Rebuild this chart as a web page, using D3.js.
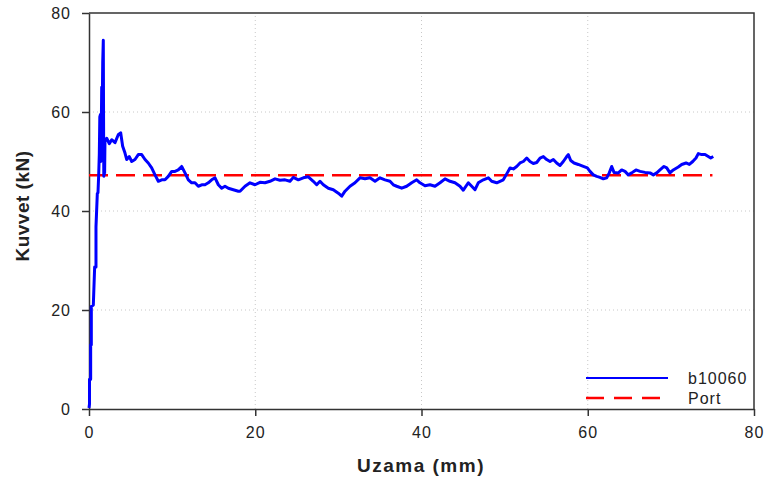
<!DOCTYPE html>
<html>
<head>
<meta charset="utf-8">
<script src="https://cdn.jsdelivr.net/npm/d3@7"></script>
<style>
  body { margin: 0; background: #fff; }
  text { font-family: "Liberation Sans", Arial, sans-serif; }
</style>
</head>
<body>
<div id="chart"></div>
<script>
// elongation (mm) and force (kN) of the b10060 test
var uzama = [0, 0.06, 0.06, 0.2, 0.2, 0.28, 0.28, 0.52, 0.68, 0.84, 0.84, 1.0, 1.08, 1.17, 1.24, 1.30,
  1.38, 1.42, 1.48, 1.53, 1.60, 1.65, 1.72, 1.76, 1.78, 1.83, 1.88, 1.92, 2.13, 2.44, 2.73, 3.13,
  3.52, 3.81, 4.05, 4.33, 4.54, 4.85, 5.14, 5.53, 5.93, 6.34, 6.74, 7.13, 7.54, 7.94, 8.34, 8.75,
  9.14, 9.54, 9.95, 10.35, 10.74, 11.15, 11.55, 11.95, 12.35, 12.75, 13.15, 13.56, 13.95, 14.35,
  14.76, 15.16, 15.56, 15.96, 16.36, 16.76, 17.36, 17.96, 18.17, 18.77, 19.37, 19.97, 20.57, 21.17,
  21.77, 22.38, 22.98, 23.58, 24.18, 24.58, 25.18, 25.78, 26.38, 26.98, 27.39, 27.79, 28.19, 28.79,
  29.39, 29.99, 30.40, 30.80, 31.40, 32.00, 32.60, 33.20, 33.80, 34.41, 35.01, 35.61, 36.21, 36.61,
  37.02, 37.62, 38.22, 38.82, 39.42, 39.82, 40.42, 41.02, 41.62, 42.23, 42.83, 43.43, 44.03, 44.63,
  45.03, 45.63, 46.04, 46.44, 46.83, 47.44, 48.04, 48.44, 49.05, 49.44, 49.84, 50.25, 50.65, 51.05,
  51.45, 51.85, 52.25, 52.66, 53.05, 53.45, 53.86, 54.26, 54.66, 55.06, 55.46, 55.86, 56.26, 56.66,
  57.06, 57.47, 57.66, 57.95, 58.35, 58.86, 59.47, 59.95, 60.27, 60.67, 61.08, 61.47, 61.87, 62.28,
  62.59, 62.88, 63.16, 63.68, 64.08, 64.48, 64.88, 65.29, 65.80, 66.29, 66.89, 67.49, 67.89, 68.30,
  68.69, 69.17, 69.50, 69.89, 70.29, 70.89, 71.30, 71.82, 72.22, 72.63, 73.02, 73.30, 73.71, 74.11,
  74.50, 74.79, 75.10];
var kuvvet = [0.2, 1, 6, 6, 13, 13, 20.7, 21, 28.7, 28.7, 36.8, 43.5, 43.7, 47.5, 51.5, 59,
  59.5, 50, 57, 65, 62, 70, 74.5, 55, 47, 52, 47.5, 54, 54.7, 53.6, 54.4, 53.8,
  55.4, 55.8, 53.1, 51.7, 50.4, 51, 50, 50.4, 51.4, 51.4, 50.4, 49.7, 48.7, 47.3, 46, 46.3,
  46.3, 47, 48, 48, 48.3, 49, 47.7, 46.3, 45.7, 45.7, 45, 45.3, 45.3, 45.7,
  46.3, 46.7, 45.3, 44.6, 45, 44.6, 44.3, 44, 44, 45, 45.7, 45.3, 45.8, 45.7,
  46, 46.5, 46.2, 46.3, 46, 46.8, 46.3, 46.7, 46.9, 46, 45.3, 46, 45.3, 44.6,
  44.3, 43.6, 43, 44, 45, 45.7, 46.7, 46.5, 46.7, 46, 46.7, 46.3, 46, 45.3,
  45, 44.6, 45, 45.7, 46.3, 45.7, 45.1, 45.3, 45, 45.7, 46.5, 46, 45.7, 45,
  44.2, 45.7, 45, 44.3, 45.7, 46.3, 46.7, 46, 45.7, 46, 46.3, 47.5, 48.7, 48.5,
  49, 49.7, 50, 50.7, 50, 49.6, 49.8, 50.7, 51, 50.4, 50, 50.4, 49.7, 49.2,
  50, 51, 51.4, 50.2, 49.7, 49.4, 49, 48.7, 48, 47.3, 47, 46.8, 46.5, 46.7,
  47.7, 49, 47.8, 47.7, 48.3, 48, 47.3, 47.7, 48.3, 48, 47.8, 47.7, 47.3, 47.7,
  48.3, 49, 48.7, 47.7, 48.3, 48.9, 49.4, 49.7, 49.4, 50, 50.7, 51.6, 51.4, 51.4,
  51, 50.7, 51];
var portX = [0, 75];
var portY = [47.2, 47.2];
var xTicks = [0, 20, 40, 60, 80];
var yTicks = [0, 20, 40, 60, 80];
var seriesNames = ["b10060", "Port"];

function init(){
    var w = 766;
    var h = 479;
    var m = {left: 89, right: 12, top: 13, bottom: 70};

    var svg = d3.select("#chart")
      .append("svg")
      .attr("width", w)
      .attr("height", h);

    var xScale = d3.scaleLinear()
      .domain([0, 80])
      .range([m.left, w - m.right]);

    var yScale = d3.scaleLinear()
      .domain([0, 80])
      .range([h - m.bottom, m.top]);

    // dotted grid
    svg.append("g").selectAll("line")
      .data(xTicks.slice(1, -1))
      .enter().append("line")
      .attr("x1", function(d){ return xScale(d); })
      .attr("x2", function(d){ return xScale(d); })
      .attr("y1", yScale(0))
      .attr("y2", yScale(80))
      .attr("stroke", "#c8c8c8")
      .attr("stroke-dasharray", "1,3");

    svg.append("g").selectAll("line")
      .data(yTicks.slice(1, -1))
      .enter().append("line")
      .attr("y1", function(d){ return yScale(d); })
      .attr("y2", function(d){ return yScale(d); })
      .attr("x1", xScale(0))
      .attr("x2", xScale(80))
      .attr("stroke", "#c8c8c8")
      .attr("stroke-dasharray", "1,3");

    var xAxis = d3.axisBottom(xScale).tickValues(xTicks).tickSize(7).tickPadding(11).tickSizeOuter(0);
    var yAxis = d3.axisLeft(yScale).tickValues(yTicks).tickSize(7).tickPadding(11).tickSizeOuter(0);

    var gx = svg.append("g").attr("transform", "translate(0," + yScale(0) + ")").call(xAxis);
    var gy = svg.append("g").attr("transform", "translate(" + xScale(0) + ",0)").call(yAxis);

    [gx, gy].forEach(function(g){
      g.selectAll("path, line").attr("stroke", "#333").attr("stroke-width", 1.5);
      g.selectAll("text").attr("fill", "#222")
        .style("font-size", "16px")
        .style("letter-spacing", "1px");
    });

    // top and right frame
    svg.append("path")
      .attr("d", "M" + xScale(0) + "," + yScale(80) + "H" + xScale(80) + "V" + yScale(0))
      .attr("fill", "none")
      .attr("stroke", "#333")
      .attr("stroke-width", 1.5);

    var line = d3.line()
      .x(function(d){ return xScale(d[0]); })
      .y(function(d){ return yScale(d[1]); });

    svg.append("path")
      .datum(d3.zip(portX, portY))
      .attr("d", line)
      .attr("fill", "none")
      .attr("stroke", "#ff0000")
      .attr("stroke-width", 2.5)
      .attr("stroke-dasharray", "19,8");

    svg.append("path")
      .datum(d3.zip(uzama, kuvvet))
      .attr("d", line)
      .attr("fill", "none")
      .attr("stroke", "#0000ff")
      .attr("stroke-width", 3)
      .attr("stroke-linejoin", "round");

    // axis titles
    svg.append("text")
      .attr("x", 421)
      .attr("y", 472)
      .attr("text-anchor", "middle")
      .style("font-size", "19px")
      .style("font-weight", "bold")
      .style("letter-spacing", "1.5px")
      .attr("fill", "#222")
      .text("Uzama (mm)");

    svg.append("text")
      .attr("transform", "translate(29,206) rotate(-90)")
      .attr("text-anchor", "middle")
      .style("font-size", "19px")
      .style("font-weight", "bold")
      .style("letter-spacing", "0.5px")
      .attr("fill", "#222")
      .text("Kuvvet (kN)");

    // legend
    var legend = svg.append("g").attr("transform", "translate(586,378)");
    legend.append("line")
      .attr("x1", 0).attr("x2", 82).attr("y1", 0).attr("y2", 0)
      .attr("stroke", "#0000ff").attr("stroke-width", 2);
    legend.append("line")
      .attr("x1", 0).attr("x2", 82).attr("y1", 20).attr("y2", 20)
      .attr("stroke", "#ff0000").attr("stroke-width", 2.5)
      .attr("stroke-dasharray", "18,10");
    legend.selectAll("text")
      .data(seriesNames)
      .enter().append("text")
      .attr("x", 102)
      .attr("y", function(d, i){ return i * 20 + 6; })
      .style("font-size", "16px")
      .style("letter-spacing", "1px")
      .attr("fill", "#222")
      .text(function(d){ return d; });
}

window.onload = init;
</script>
</body>
</html>
